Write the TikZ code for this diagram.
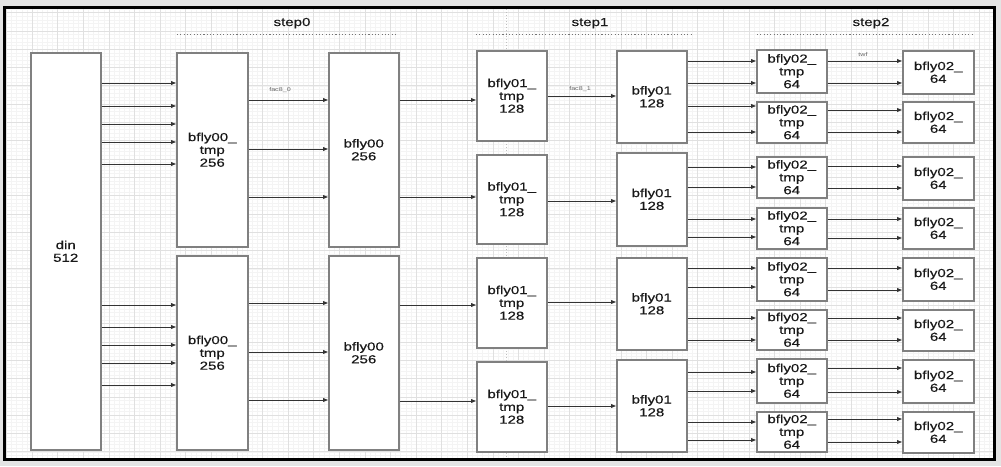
\documentclass[tikz,border=0pt]{standalone}
\usepackage{fontspec}
\newfontfamily\lbl[FakeStretch=1.3,FakeBold=0.35]{Liberation Sans}
\newfontfamily\lblsmall[FakeStretch=1.3]{Liberation Sans}
\usetikzlibrary{arrows.meta}
\definecolor{boxgray}{HTML}{808080}
\definecolor{linegray}{HTML}{333333}
\definecolor{bggray}{HTML}{E4E4E4}
\definecolor{gridmaj}{HTML}{E0E0E0}
\definecolor{gridmin}{HTML}{F4F4F4}
\begin{document}
\begin{tikzpicture}[x=1pt,y=-1pt,
  box/.style={draw=boxgray, line width=1.5pt, fill=white, anchor=north west, inner sep=0pt, align=center,
    font=\lbl\fontsize{11.6}{12.8}\selectfont, text=black!90},
  sz/.style 2 args={minimum width=#1pt, minimum height=#2pt},
  arr/.style={draw=linegray, line width=0.8pt, -{Triangle[length=5pt,width=3.8pt]}},
  small/.style={font=\lblsmall\fontsize{5.5}{6}\selectfont, text=black!60, inner sep=0pt},
  steplbl/.style={font=\lbl\fontsize{11.6}{12.8}\selectfont, anchor=base, inner sep=0pt, text=black!90},
  stepline/.style={draw=black!55, line width=0.9pt, dash pattern=on 1.1pt off 2.2pt},
]
\useasboundingbox (0,0) rectangle (1001,466);
% background and frame
\fill[bggray] (0,0) rectangle (1001,466);
\fill[white] (5,8) rectangle (995,460);
\begin{scope}
  \clip (5,8) rectangle (995,460);
  \foreach \x in {1.38,6.5,...,1000} \draw[gridmin, line width=0.5pt] (\x,8) -- (\x,460);
  \foreach \y in {1.62,5.28,...,465} \draw[gridmin, line width=0.5pt] (5,\y) -- (995,\y);
  \foreach \x in {6.5,32.1,...,1000} \draw[gridmaj, line width=0.7pt] (\x,8) -- (\x,460);
  \foreach \y in {12.6,30.9,...,465} \draw[gridmaj, line width=0.7pt] (5,\y) -- (995,\y);
\end{scope}
\draw[black!25, line width=0.6pt, dash pattern=on 1pt off 2pt] (506,9) -- (506,459);

% step labels
\node[steplbl] (s0) at (292,26) {step0};
\node[steplbl] (s1) at (590,26) {step1};
\node[steplbl] (s2) at (871,26) {step2};
\coordinate (s0a) at (177,34); \coordinate (s0b) at (398,34);
\coordinate (s1a) at (476,34); \coordinate (s1b) at (692,34);
\coordinate (s2a) at (757,34); \coordinate (s2b) at (972,34);
\draw[stepline] (s0a) -- (s0b);
\draw[stepline] (s1a) -- (s1b);
\draw[stepline] (s2a) -- (s2b);

% boxes
\node[box, sz={70}{397}] (din) at (30,52) {din\\512};
\node[box, sz={71}{194}] (t0a) at (176,52) {bfly00\_\\tmp\\256};
\node[box, sz={71}{194}] (t0b) at (176,255) {bfly00\_\\tmp\\256};
\node[box, sz={70}{194}] (b0a) at (328,52) {bfly00\\256};
\node[box, sz={70}{194}] (b0b) at (328,255) {bfly00\\256};

\node[box, sz={70}{90}] (t1a) at (476,50) {bfly01\_\\tmp\\128};
\node[box, sz={70}{89}] (t1b) at (476,154) {bfly01\_\\tmp\\128};
\node[box, sz={70}{90}] (t1c) at (476,257) {bfly01\_\\tmp\\128};
\node[box, sz={70}{90}] (t1d) at (476,361) {bfly01\_\\tmp\\128};
\node[box, sz={70}{92}] (b1a) at (616,50) {bfly01\\128};
\node[box, sz={70}{93}] (b1b) at (616,152) {bfly01\\128};
\node[box, sz={70}{92}] (b1c) at (616,257) {bfly01\\128};
\node[box, sz={70}{92}] (b1d) at (616,359) {bfly01\\128};

\node[box, sz={70}{43}] (t2a) at (756,49) {bfly02\_\\tmp\\64};
\node[box, sz={70}{41}] (t2b) at (756,101) {bfly02\_\\tmp\\64};
\node[box, sz={70}{41}] (t2c) at (756,156) {bfly02\_\\tmp\\64};
\node[box, sz={70}{41}] (t2d) at (756,207) {bfly02\_\\tmp\\64};
\node[box, sz={70}{43}] (t2e) at (756,257) {bfly02\_\\tmp\\64};
\node[box, sz={70}{40}] (t2f) at (756,309) {bfly02\_\\tmp\\64};
\node[box, sz={70}{44}] (t2g) at (756,358) {bfly02\_\\tmp\\64};
\node[box, sz={70}{40}] (t2h) at (756,411) {bfly02\_\\tmp\\64};

\node[box, sz={71}{43}] (fa) at (902,50) {bfly02\_\\64};
\node[box, sz={71}{41}] (fb) at (902,101) {bfly02\_\\64};
\node[box, sz={71}{43}] (fc) at (902,156) {bfly02\_\\64};
\node[box, sz={71}{41}] (fd) at (902,207) {bfly02\_\\64};
\node[box, sz={71}{43}] (fe) at (902,257) {bfly02\_\\64};
\node[box, sz={71}{41}] (ff) at (902,309) {bfly02\_\\64};
\node[box, sz={71}{43}] (fg) at (902,359) {bfly02\_\\64};
\node[box, sz={71}{41}] (fh) at (902,411) {bfly02\_\\64};

% din -> bfly00_tmp
\foreach \y in {83,106,124,142,164} \draw[arr] (din.east |- 0,\y) -- (t0a.west |- 0,\y);
\foreach \y in {305,327,345,363,385} \draw[arr] (din.east |- 0,\y) -- (t0b.west |- 0,\y);
% bfly00_tmp -> bfly00
\foreach \y in {100,149,197} \draw[arr] (t0a.east |- 0,\y) -- (b0a.west |- 0,\y);
\foreach \y in {303,352,400} \draw[arr] (t0b.east |- 0,\y) -- (b0b.west |- 0,\y);
\node[small] (l0) at (280,90) {fac8\_0};
% bfly00 -> bfly01_tmp
\draw[arr] (b0a.east |- 0,100) -- (t1a.west |- 0,100);
\draw[arr] (b0a.east |- 0,197) -- (t1b.west |- 0,197);
\draw[arr] (b0b.east |- 0,305) -- (t1c.west |- 0,305);
\draw[arr] (b0b.east |- 0,401) -- (t1d.west |- 0,401);
% bfly01_tmp -> bfly01
\draw[arr] (t1a.east |- 0,96) -- (b1a.west |- 0,96);
\draw[arr] (t1b.east |- 0,201) -- (b1b.west |- 0,201);
\draw[arr] (t1c.east |- 0,302) -- (b1c.west |- 0,302);
\draw[arr] (t1d.east |- 0,406) -- (b1d.west |- 0,406);
\node[small] (l1) at (580,89) {fac8\_1};
% bfly01 -> bfly02_tmp
\foreach \y in {61,83} \draw[arr] (b1a.east |- 0,\y) -- (t2a.west |- 0,\y);
\foreach \y in {106,132} \draw[arr] (b1a.east |- 0,\y) -- (t2b.west |- 0,\y);
\foreach \y in {167,187} \draw[arr] (b1b.east |- 0,\y) -- (t2c.west |- 0,\y);
\foreach \y in {219,237} \draw[arr] (b1b.east |- 0,\y) -- (t2d.west |- 0,\y);
\foreach \y in {268,287} \draw[arr] (b1c.east |- 0,\y) -- (t2e.west |- 0,\y);
\foreach \y in {318,340} \draw[arr] (b1c.east |- 0,\y) -- (t2f.west |- 0,\y);
\foreach \y in {372,391} \draw[arr] (b1d.east |- 0,\y) -- (t2g.west |- 0,\y);
\foreach \y in {422,440} \draw[arr] (b1d.east |- 0,\y) -- (t2h.west |- 0,\y);
% bfly02_tmp -> bfly02_
\foreach \y in {61,83} \draw[arr] (t2a.east |- 0,\y) -- (fa.west |- 0,\y);
\foreach \y in {110,132} \draw[arr] (t2b.east |- 0,\y) -- (fb.west |- 0,\y);
\foreach \y in {166,188} \draw[arr] (t2c.east |- 0,\y) -- (fc.west |- 0,\y);
\foreach \y in {219,238} \draw[arr] (t2d.east |- 0,\y) -- (fd.west |- 0,\y);
\foreach \y in {268,290} \draw[arr] (t2e.east |- 0,\y) -- (fe.west |- 0,\y);
\foreach \y in {318,340} \draw[arr] (t2f.east |- 0,\y) -- (ff.west |- 0,\y);
\foreach \y in {368,392} \draw[arr] (t2g.east |- 0,\y) -- (fg.west |- 0,\y);
\foreach \y in {419,442} \draw[arr] (t2h.east |- 0,\y) -- (fh.west |- 0,\y);
\node[small] (l2) at (863,55) {twf};

\draw[black, line width=2.6pt] (4.7,7.3) rectangle (994.7,459.7);
\end{tikzpicture}
\end{document}
